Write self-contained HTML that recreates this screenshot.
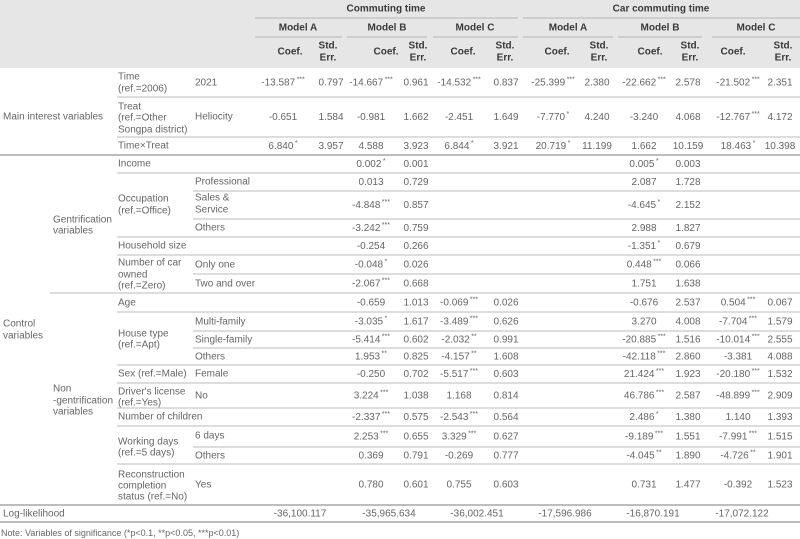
<!DOCTYPE html>
<html><head><meta charset="utf-8">
<style>
html,body{margin:0;padding:0;background:#fff;}
svg{display:block;font-family:"Liberation Sans",sans-serif;}
.t{fill:#666;font-size:10px;}
.h{fill:#3a3a3a;font-size:10px;font-weight:bold;}
.s{font-size:7px;}
</style></head>
<body>
<svg id="tbl" width="800" height="539" viewBox="0 0 800 539" xmlns="http://www.w3.org/2000/svg">
<rect x="0" y="0" width="800" height="68" fill="#e6e6e6"/>
<g id="hdr"></g>
<g id="lines"></g>
<g id="labels"></g>
<g id="vals"></g>
<text class="t" x="1" y="536" style="font-size:9px">Note: Variables of significance (*p&lt;0.1, **p&lt;0.05, ***p&lt;0.01)</text>
</svg>
<script>
const NS="http://www.w3.org/2000/svg";
const colCenters=[283,331,371,416,459,506,553,597,644,688,738,780];
const hdrCoefX=[290,328,386,418,463,505,557,599,650,690,733,783];
const rowTops=[68,97,137,155,173,191,219,237,255,274,293,312,331,348,365,383,408,426,447,464,505];
const rowBottoms=[97,137,155,173,191,219,237,255,274,293,312,331,348,365,383,408,426,447,464,505,522];
const lineStarts=[117,117,0,117,193,193,117,117,193,50,117,193,193,117,117,117,117,193,117,0,0];
const rowValues=[
["-13.587|***","0.797","-14.667|***","0.961","-14.532|***","0.837","-25.399|***","2.380","-22.662|***","2.578","-21.502|***","2.351"],
["-0.651","1.584","-0.981","1.662","-2.451","1.649","-7.770|*","4.240","-3.240","4.068","-12.767|***","4.172"],
["6.840|*","3.957","4.588","3.923","6.844|*","3.921","20.719|*","11.199","1.662","10.159","18.463|*","10.398"],
["","","0.002|*","0.001","","","","","0.005|*","0.003","",""],
["","","0.013","0.729","","","","","2.087","1.728","",""],
["","","-4.848|***","0.857","","","","","-4.645|*","2.152","",""],
["","","-3.242|***","0.759","","","","","2.988","1.827","",""],
["","","-0.254","0.266","","","","","-1.351|*","0.679","",""],
["","","-0.048|*","0.026","","","","","0.448|***","0.066","",""],
["","","-2.067|***","0.668","","","","","1.751","1.638","",""],
["","","-0.659","1.013","-0.069|***","0.026","","","-0.676","2.537","0.504|***","0.067"],
["","","-3.035|*","1.617","-3.489|***","0.626","","","3.270","4.008","-7.704|***","1.579"],
["","","-5.414|***","0.602","-2.032|**","0.991","","","-20.885|***","1.516","-10.014|***","2.555"],
["","","1.953|**","0.825","-4.157|**","1.608","","","-42.118|***","2.860","-3.381","4.088"],
["","","-0.250","0.702","-5.517|***","0.603","","","21.424|***","1.923","-20.180|***","1.532"],
["","","3.224|***","1.038","1.168","0.814","","","46.786|***","2.587","-48.899|***","2.909"],
["","","-2.337|***","0.575","-2.543|***","0.564","","","2.486|*","1.380","1.140","1.393"],
["","","2.253|***","0.655","3.329|***","0.627","","","-9.189|***","1.551","-7.991|***","1.515"],
["","","0.369","0.791","-0.269","0.777","","","-4.045|**","1.890","-4.726|**","1.901"],
["","","0.780","0.601","0.755","0.603","","","0.731","1.477","-0.392","1.523"]
];
const logLik=["-36,100.117","-35,965.634","-36,002.451","-17,596.986","-16,870.191","-17,072.122"];
const logLikX=[300,389,477,565,653,742];
const leftLabels=[
[3,["Main interest variables"],[117]],
[3,["Control","variables"],[324,336]],
[53,["Gentrification","variables"],[220,231]],
[53,["Non","-gentrification","variables"],[389,401,412]],
[118,["Time","(ref.=2006)"],[77,89]],
[118,["Treat","(ref.=Other","Songpa district)"],[107,118,130]],
[118,["Time\u00d7Treat"],[146]],
[118,["Income"],[164]],
[118,["Occupation","(ref.=Office)"],[199,211]],
[118,["Household size"],[246]],
[118,["Number of car","owned","(ref.=Zero)"],[263,275,286]],
[118,["Age"],[303]],
[118,["House type","(ref.=Apt)"],[334,345]],
[118,["Sex (ref.=Male)"],[374]],
[118,["Driver's license","(ref.=Yes)"],[392,403]],
[118,["Number of children"],[417]],
[118,["Working days","(ref.=5 days)"],[442,453]],
[118,["Reconstruction","completion","status (ref.=No)"],[475,486,497]],
[195,["2021"],[83]],
[195,["Heliocity"],[117]],
[195,["Professional"],[182]],
[195,["Sales &","Service"],[198,210]],
[195,["Others"],[228]],
[195,["Only one"],[265]],
[195,["Two and over"],[284]],
[195,["Multi-family"],[322]],
[195,["Single-family"],[340]],
[195,["Others"],[357]],
[195,["Female"],[374]],
[195,["No"],[396]],
[195,["6 days"],[436]],
[195,["Others"],[456]],
[195,["Yes"],[485]],
[3,["Log-likelihood"],[514]]
];

function mk(tag,attrs,parent){const e=document.createElementNS(NS,tag);for(const k in attrs)e.setAttribute(k,attrs[k]);parent.appendChild(e);return e;}
const hdr=document.getElementById('hdr'),lines=document.getElementById('lines'),labels=document.getElementById('labels'),vals=document.getElementById('vals');

function htext(x,y,s){const t=mk('text',{x:x,y:y,'text-anchor':'middle','class':'h','dominant-baseline':'central'},hdr);t.textContent=s;

return t;}
htext(386,9,"Commuting time");htext(661,9,"Car commuting time");
const hl=[[255,518,18],[523,800,18],[255,342,37],[347,427,37],[433,518,37],[523,613,37],[618,702,37],[712,800,37]];
hl.forEach(l=>{const e=mk('line',{x1:l[0],x2:l[1],y1:l[2],y2:l[2],stroke:'#c6c6c6','stroke-width':1.5},hdr);

});
const modelX=[298,387,475,568,660,756];
["Model A","Model B","Model C","Model A","Model B","Model C"].forEach((m,i)=>htext(modelX[i],28,m));
for(let i=0;i<12;i++){
  if(i%2===0)htext(hdrCoefX[i],52,"Coef.");
  else{htext(hdrCoefX[i],46,"Std.");htext(hdrCoefX[i],58,"Err.");}
}

rowBottoms.forEach((y,i)=>{
  const heavy=(i===2||i===19||i===20);
  const e=mk('line',{x1:lineStarts[i],x2:800,y1:y,y2:y,stroke:heavy?'#bdbdbd':'#d2d2d2','stroke-width':heavy?2:1.5},lines);
  
  
});

leftLabels.forEach(l=>{
  l[1].forEach((s,j)=>{
    const t=mk('text',{x:l[0],y:l[2][j],'class':'t','dominant-baseline':'central'},labels);
    t.textContent=s;
    
    
  });
});

rowValues.forEach((row,r)=>{
  const y=(rowTops[r]+rowBottoms[r])/2;
  row.forEach((v,c)=>{
    if(!v)return;
    const parts=v.split('|');
    const t=mk('text',{x:colCenters[c],y:y,'class':'t','text-anchor':'middle','dominant-baseline':'central'},vals);
    
    
    const a=document.createElementNS(NS,'tspan');a.textContent=parts[0];t.appendChild(a);
    if(parts[1]){const b=document.createElementNS(NS,'tspan');b.setAttribute('class','s');b.setAttribute('dy','-3');b.textContent='\u2009'+parts[1];t.appendChild(b);}
  });
});
logLik.forEach((v,i)=>{
  const t=mk('text',{x:logLikX[i],y:514,'class':'t','text-anchor':'middle','dominant-baseline':'central'},vals);
  
  
  t.textContent=v;
});
</script>
</body></html>
